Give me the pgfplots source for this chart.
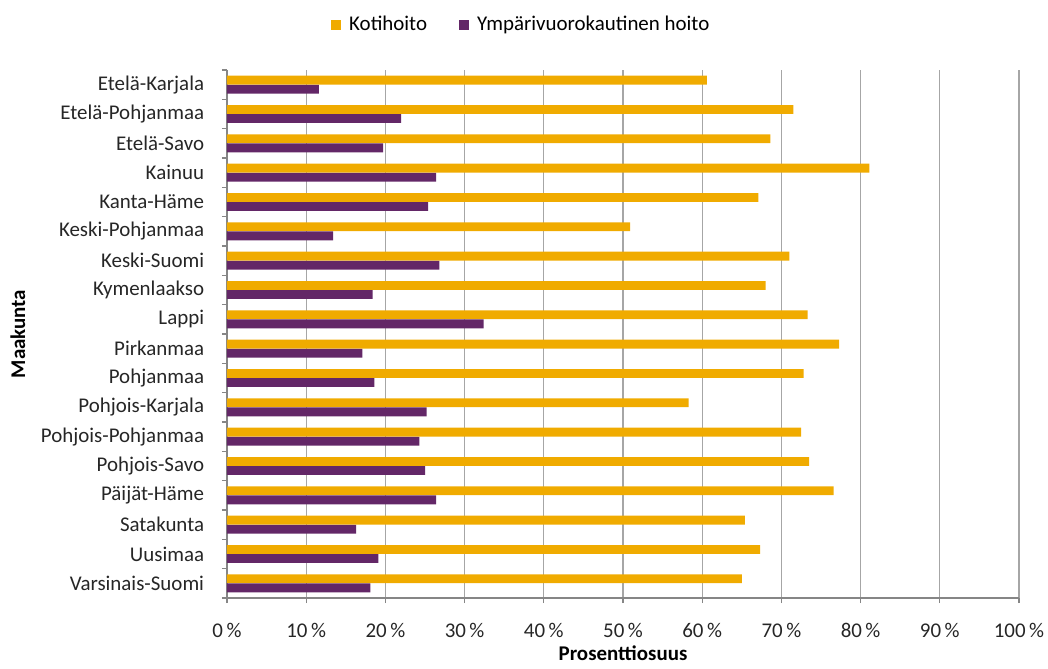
\documentclass[border=0pt]{standalone}
\usepackage{pgfplots}
\pgfplotsset{compat=1.18}
\usepackage{fontspec}
\setmainfont{Carlito}
\definecolor{koti}{HTML}{F0AB00}
\definecolor{ymp}{HTML}{632767}
\definecolor{gridc}{HTML}{A6A6A6}
\definecolor{axc}{HTML}{868686}
\begin{document}
\fontsize{15.7}{18}\selectfont
\begin{tikzpicture}
\path[use as bounding box] (-170.25pt,-52.5pt) rectangle (615.75pt,448.5pt);
\begin{axis}[
  at={(0,0)}, anchor=south west,
  scale only axis, width=594pt, height=396pt,
  xmin=0, xmax=100, ymin=-0.5, ymax=17.5, y dir=reverse,
  xbar, bar width=0.3,
  axis x line*=bottom, axis y line*=left,
  axis line style={axc, line width=0.8pt},
  xtick={0,10,...,100},
  xticklabels={0\,\%,10\,\%,20\,\%,30\,\%,40\,\%,50\,\%,60\,\%,70\,\%,80\,\%,90\,\%,100\,\%},
  xmajorgrids, major grid style={gridc, line width=0.8pt},
  tick align=outside,
  major x tick style={axc, line width=0.8pt},
  major tick length=3.75pt,
  ytick={0,...,17},
  yticklabels={Etelä-Karjala,Etelä-Pohjanmaa,Etelä-Savo,Kainuu,Kanta-Häme,Keski-Pohjanmaa,Keski-Suomi,Kymenlaakso,Lappi,Pirkanmaa,Pohjanmaa,Pohjois-Karjala,Pohjois-Pohjanmaa,Pohjois-Savo,Päijät-Häme,Satakunta,Uusimaa,Varsinais-Suomi},
  major y tick style={draw=none},
  minor ytick={-0.5,0.5,...,17.5},
  minor y tick style={axc, line width=0.8pt},
  minor tick length=3.75pt,
  yticklabel style={font=\fontsize{15.7}{18}\selectfont, text=black!85, xshift=-8pt},
  xticklabel style={font=\fontsize{15.7}{18}\selectfont, text=black!85, yshift=-10pt},
  xlabel={\bfseries Prosenttiosuus},
  xlabel style={at={(axis description cs:0.5,-0.104)}, anchor=center, font=\fontsize{15.7}{18}\selectfont},
  ylabel={\bfseries Maakunta},
  ylabel style={at={(axis description cs:-0.264,0.5)}, anchor=center, font=\fontsize{15.7}{18}\selectfont},
  legend style={at={(axis description cs:0.372,1.085)}, anchor=center, draw=none, fill=none,
    legend columns=2, font=\fontsize{15.7}{18}\selectfont,
    /tikz/every odd column/.append style={column sep=4pt},
    /tikz/every even column/.append style={column sep=22pt}},
  legend image code/.code={\fill[#1] (0pt,-3.75pt) rectangle (7.5pt,3.75pt);},
]
\addplot[fill=koti, draw=none, bar shift=-0.155] coordinates {
(60.6,0) (71.5,1) (68.6,2) (81.1,3) (67.1,4) (50.9,5) (71.0,6) (68.0,7) (73.3,8)
(77.3,9) (72.8,10) (58.3,11) (72.5,12) (73.5,13) (76.6,14) (65.4,15) (67.3,16) (65.0,17)};
\addplot[fill=ymp, draw=none, bar shift=0.155] coordinates {
(11.6,0) (22.0,1) (19.7,2) (26.4,3) (25.4,4) (13.4,5) (26.8,6) (18.4,7) (32.4,8)
(17.1,9) (18.6,10) (25.2,11) (24.3,12) (25.0,13) (26.4,14) (16.3,15) (19.1,16) (18.1,17)};
\legend{Kotihoito, Ympärivuorokautinen hoito}
\end{axis}
\end{tikzpicture}
\end{document}
